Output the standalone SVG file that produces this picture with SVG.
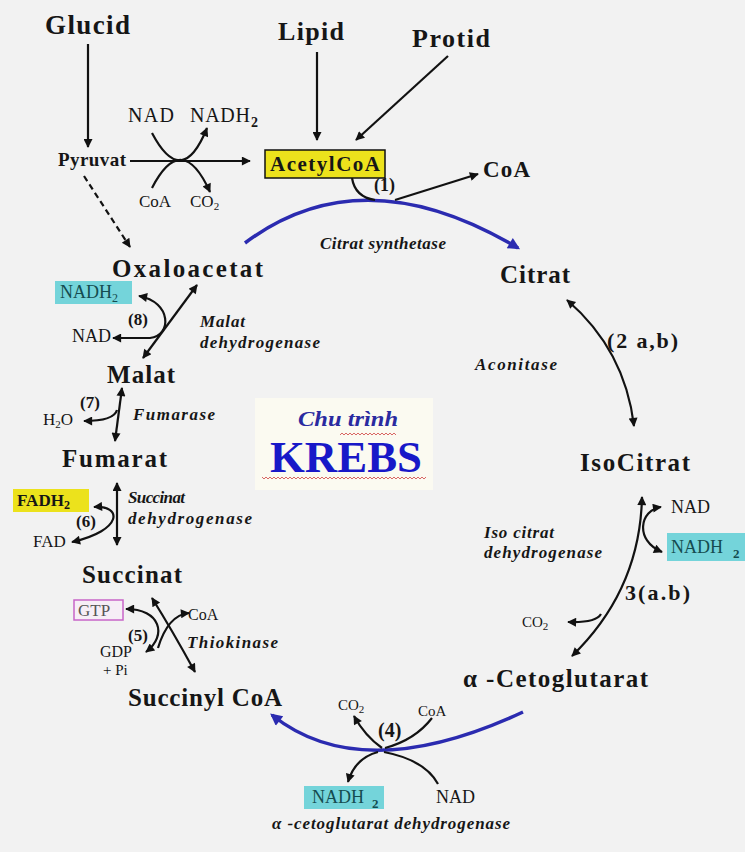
<svg xmlns="http://www.w3.org/2000/svg" width="745" height="852" viewBox="0 0 745 852">
<defs>
<marker id="ah" viewBox="0 0 10 10" refX="9" refY="5" markerWidth="12" markerHeight="9" markerUnits="userSpaceOnUse" orient="auto-start-reverse"><path d="M0,0 L10,5 L0,10 Z" fill="#111"/></marker>
<marker id="bh" viewBox="0 0 10 10" refX="8" refY="5" markerWidth="16" markerHeight="12" markerUnits="userSpaceOnUse" orient="auto-start-reverse"><path d="M0,0 L10,5 L0,10 Z" fill="#2b2bb0"/></marker>
<pattern id="wavy" width="4" height="4" patternUnits="userSpaceOnUse"><path d="M0,3 L2,1 L4,3" stroke="#d04040" fill="none" stroke-width="0.8"/></pattern>
<style>
text{font-family:"Liberation Serif","Times New Roman",serif;fill:#161616}
.b{font-weight:bold}
.i{font-style:italic;font-weight:bold}
.cy{fill:#74d4da}
.cyt{fill:#154c50}
.ln{fill:none;stroke:#121212;stroke-width:2.2}
.bl{fill:none;stroke:#2b2bb0;stroke-width:3.5}
.sub{font-size:11px}
</style>
</defs>
<rect x="0" y="0" width="745" height="852" fill="#f2f2f2"/>

<g id="title">
<rect x="255" y="398" width="178" height="92" fill="#fbfaf1"/>
<text x="298" y="426" class="i" font-size="22" style="fill:#2a2aa0" textLength="100" lengthAdjust="spacingAndGlyphs">Chu trình</text>
<text x="270" y="472" class="b" font-size="44" style="fill:#1818c8" textLength="152" lengthAdjust="spacingAndGlyphs">KREBS</text>
<rect x="340" y="432" width="56" height="4" fill="url(#wavy)"/>
<rect x="262" y="476" width="164" height="4" fill="url(#wavy)"/>
</g>

<g id="connectors">
<path class="ln" d="M88,44 L88,147" marker-end="url(#ah)"/>
<path class="ln" d="M317,52 L317,140" marker-end="url(#ah)"/>
<path class="ln" d="M448,56 L356,140" marker-end="url(#ah)"/>
<path class="ln" d="M130,161 L250,161" marker-end="url(#ah)"/>
<path class="ln" d="M152,133 Q182,190 207,128" marker-end="url(#ah)"/>
<path class="ln" d="M152,188 Q182,130 210,192" marker-end="url(#ah)"/>
<path class="ln" d="M84,176 L130,247" stroke-dasharray="6,4" stroke-width="2.6" marker-end="url(#ah)"/>
<path class="bl" d="M245,243 Q362,155 518,248" marker-end="url(#bh)"/>
<path class="ln" d="M352,178 Q355,197 375,200"/>
<path class="ln" d="M395,200 L478,174" marker-end="url(#ah)"/>
<path class="ln" d="M567,300 Q625,350 634,426" marker-start="url(#ah)" marker-end="url(#ah)"/>
<path class="ln" d="M642,497 Q640,590 572,656" marker-start="url(#ah)" marker-end="url(#ah)"/>
<path class="ln" d="M661,507 C640,510 634,540 662,552" marker-start="url(#ah)" marker-end="url(#ah)"/>
<path class="ln" d="M601,614 Q596,623 568,622" marker-end="url(#ah)"/>
<path class="bl" d="M523,712 Q362,787 272,715" marker-end="url(#bh)"/>
<path class="ln" d="M382,748 Q365,736 354,716" marker-end="url(#ah)"/>
<path class="ln" d="M385,748 Q415,740 432,718"/>
<path class="ln" d="M378,752 Q355,758 348,782" marker-end="url(#ah)"/>
<path class="ln" d="M384,752 Q425,760 438,784"/>
<path class="ln" d="M152,598 Q172,630 195,672" marker-start="url(#ah)" marker-end="url(#ah)"/>
<path class="ln" d="M126,609 C160,609 168,635 146,652" marker-start="url(#ah)" marker-end="url(#ah)"/>
<path class="ln" d="M158,648 Q168,615 189,613" marker-end="url(#ah)"/>
<path class="ln" d="M117,545 L117,483" marker-start="url(#ah)" marker-end="url(#ah)"/>
<path class="ln" d="M94,507 C122,505 124,530 72,542" marker-start="url(#ah)" marker-end="url(#ah)"/>
<path class="ln" d="M115,441 L122,388" marker-start="url(#ah)" marker-end="url(#ah)"/>
<path class="ln" d="M117,410 Q114,421 84,421" marker-end="url(#ah)"/>
<path class="ln" d="M143,358 L197,285" marker-start="url(#ah)" marker-end="url(#ah)"/>
<path class="ln" d="M113,338 L150,338 C172,336 172,302 139,296" marker-start="url(#ah)" marker-end="url(#ah)"/>
</g>

<g id="glucid"><text x="45" y="34" class="b" font-size="27" textLength="85">Glucid</text></g>
<g id="lipid"><text x="278" y="40" class="b" font-size="26" textLength="66">Lipid</text></g>
<g id="protid"><text x="412" y="47" class="b" font-size="26" textLength="78">Protid</text></g>
<g id="pyruvat"><text x="58" y="166" class="b" font-size="19" textLength="68">Pyruvat</text></g>
<g id="pdh-cofactors">
<text x="128" y="122" font-size="20" textLength="46">NAD</text>
<text x="190" y="122" font-size="20" textLength="60">NADH</text>
<text x="251" y="127" class="b" font-size="14">2</text>
<text x="139" y="207" font-size="17">CoA</text>
<text x="190" y="207" font-size="17">CO<tspan class="sub" dy="3">2</tspan></text>
</g>
<g id="acetylcoa">
<rect x="265" y="150" width="120" height="28" fill="#ece21c" stroke="#111" stroke-width="1.5"/>
<text x="270" y="171" class="b" font-size="21" textLength="110">AcetylCoA</text>
</g>
<g id="step1">
<text x="374" y="191" class="b" font-size="18">(1)</text>
<text x="483" y="177" class="b" font-size="23" textLength="47">CoA</text>
<text x="320" y="249" class="i" font-size="17" textLength="126">Citrat synthetase</text>
</g>
<g id="citrat"><text x="500" y="283" class="b" font-size="25" textLength="70">Citrat</text></g>
<g id="step2">
<text x="475" y="370" class="i" font-size="17" textLength="82">Aconitase</text>
<text x="607" y="348" class="b" font-size="22" textLength="71">(2 a,b)</text>
</g>
<g id="isocitrat"><text x="580" y="471" class="b" font-size="25" textLength="110">IsoCitrat</text></g>
<g id="step3">
<text x="671" y="513" font-size="18">NAD</text>
<rect x="667" y="533" width="78" height="28" class="cy"/>
<text x="671" y="553" font-size="18" class="cyt">NADH</text>
<text x="733" y="558" class="b cyt" font-size="13">2</text>
<text x="484" y="538" class="i" font-size="17" textLength="70">Iso citrat</text>
<text x="484" y="558" class="i" font-size="17" textLength="118">dehydrogenase</text>
<text x="625" y="600" class="b" font-size="22" textLength="65">3(a.b)</text>
<text x="522" y="627" font-size="15">CO<tspan class="sub" dy="3">2</tspan></text>
</g>
<g id="cetoglutarat"><text x="463" y="687" class="b" font-size="25" textLength="185">α -Cetoglutarat</text></g>
<g id="step4">
<text x="338" y="710" font-size="15">CO<tspan class="sub" dy="3">2</tspan></text>
<text x="418" y="716" font-size="15">CoA</text>
<text x="378" y="737" class="b" font-size="20">(4)</text>
<rect x="304" y="786" width="80" height="23" class="cy"/>
<text x="312" y="803" font-size="18" class="cyt">NADH</text>
<text x="372" y="808" class="b cyt" font-size="13">2</text>
<text x="436" y="803" font-size="18">NAD</text>
<text x="272" y="829" class="i" font-size="17" textLength="238">α -cetoglutarat dehydrogenase</text>
</g>
<g id="succinylcoa"><text x="128" y="706" class="b" font-size="25" textLength="154">Succinyl CoA</text></g>
<g id="step5">
<rect x="74" y="600" width="49" height="20" fill="#f6eef6" stroke="#c865c8" stroke-width="1.5"/>
<text x="78" y="616" font-size="17" style="fill:#555">GTP</text>
<text x="188" y="620" font-size="16">CoA</text>
<text x="128" y="641" class="b" font-size="17">(5)</text>
<text x="187" y="648" class="i" font-size="17" textLength="91">Thiokinase</text>
<text x="100" y="657" font-size="16">GDP</text>
<text x="103" y="675" font-size="15">+ Pi</text>
</g>
<g id="succinat"><text x="82" y="583" class="b" font-size="25" textLength="100">Succinat</text></g>
<g id="step6">
<rect x="13" y="489" width="76" height="23" fill="#ece21c"/>
<text x="17" y="506" class="b" font-size="17">FADH<tspan font-size="12" dy="3">2</tspan></text>
<text x="128" y="503" class="i" font-size="17" textLength="57">Succinat</text>
<text x="128" y="524" class="i" font-size="17" textLength="124">dehydrogenase</text>
<text x="76" y="527" class="b" font-size="17">(6)</text>
<text x="33" y="547" font-size="17">FAD</text>
</g>
<g id="fumarat"><text x="62" y="467" class="b" font-size="25" textLength="105">Fumarat</text></g>
<g id="step7">
<text x="80" y="408" class="b" font-size="17">(7)</text>
<text x="43" y="425" font-size="17">H<tspan class="sub" dy="3">2</tspan><tspan dy="-3">O</tspan></text>
<text x="133" y="420" class="i" font-size="17" textLength="82">Fumarase</text>
</g>
<g id="malat"><text x="107" y="383" class="b" font-size="25" textLength="68">Malat</text></g>
<g id="step8">
<rect x="55" y="281" width="77" height="23" class="cy"/>
<text x="60" y="298" font-size="18" class="cyt">NADH<tspan font-size="12" dy="4" style="fill:#154c50">2</tspan></text>
<text x="128" y="325" class="b" font-size="17">(8)</text>
<text x="72" y="342" font-size="18">NAD</text>
<text x="200" y="327" class="i" font-size="17" textLength="45">Malat</text>
<text x="200" y="348" class="i" font-size="17" textLength="120">dehydrogenase</text>
</g>
<g id="oxaloacetat"><text x="112" y="277" class="b" font-size="25" textLength="151">Oxaloacetat</text></g>
</svg>
